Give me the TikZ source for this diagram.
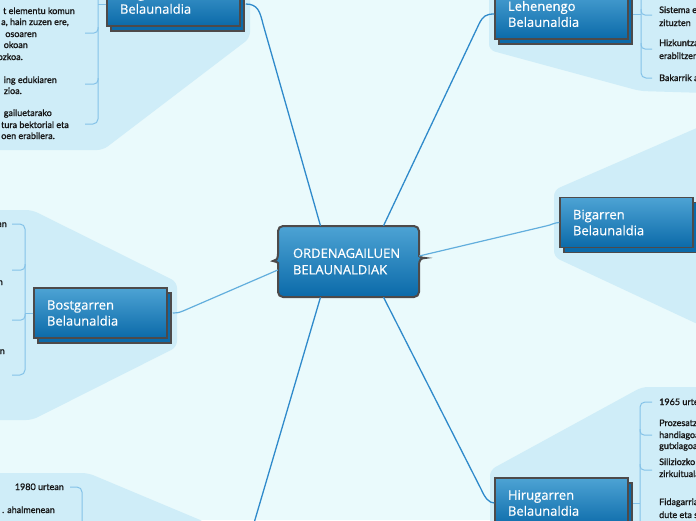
\documentclass[tikz,border=0pt]{standalone}
\usepackage{fontspec}
\newfontfamily\titlefont{Open Sans}[FakeBold=0.6]
\newfontfamily\itemfont{Lato}[FakeBold=1.2]
\usetikzlibrary{shadows,calc}
\definecolor{bgc}{HTML}{EAFAFC}
\definecolor{panelc}{HTML}{CFEDF8}
\definecolor{boxtop}{HTML}{4DA3D4}
\definecolor{boxbot}{HTML}{0B6AA9}
\definecolor{boxborder}{HTML}{4D4A4A}
\definecolor{linec}{HTML}{2F8ACB}
\definecolor{sidec}{HTML}{62AEDD}
\definecolor{itemc}{HTML}{84C2E8}
\definecolor{itemtext}{HTML}{151515}
\begin{document}
\begin{tikzpicture}[x=1pt,y=-1pt,
  genbox/.style={draw=boxborder, line width=1.5pt, top color=boxtop, bottom color=boxbot,
    minimum height=50pt, text width=107pt, inner xsep=13pt, inner ysep=0pt, align=left,
    font=\titlefont\fontsize{13}{16}\selectfont, text=white,
    copy shadow={shadow xshift=4pt, shadow yshift=-5pt, draw=boxborder, line width=1.5pt, fill=boxbot}},
  ctext/.style={minimum width=141pt, minimum height=71pt, text width=111pt, inner xsep=15pt, inner ysep=0pt,
    align=left, font=\titlefont\fontsize{13}{16.5}\selectfont, text=white},
  lt/.style={font=\itemfont\fontsize{9}{11}\selectfont, inner sep=0pt, anchor=base west, text=itemtext},
  rt/.style={lt, anchor=base east},
  panel/.style={fill=panelc, rounded corners=6pt},
  mainline/.style={draw=linec, line width=1.3pt},
  sideline/.style={draw=sidec, line width=1.2pt},
  itemline/.style={draw=itemc, line width=1pt},
]
\fill[bgc] (0,0) rectangle (696,520);
\useasboundingbox (0,0) rectangle (696,520);

% panels
\path[panel] (-10,-10) -- (250,-10) -- (250,38) -- (103,150) -- (-10,150) -- cycle;
\path[panel] (489,-10) -- (489,50) -- (640,91) -- (706,93) -- (706,-10) -- cycle;
\path[panel] (554,190) -- (706,124) -- (706,328) -- (554,257) -- cycle;
\path[panel] (490,530) -- (490,470) -- (642,387) -- (706,387) -- (706,530) -- cycle;
\path[panel] (-10,210) -- (32,210) -- (177,282) -- (177,347) -- (32,420) -- (-10,420) -- cycle;
\path[panel] (-10,473) -- (88,473) -- (205,522) -- (210,530) -- (-10,530) -- cycle;

% central box
\path[draw=boxborder, line width=2pt, top color=boxtop, bottom color=boxbot, rounded corners=5pt]
  (278,226) -- (419,226) -- (419,251) [sharp corners] .. controls (419,256) and (421,258) .. (425,258)
  .. controls (421,258) and (419,260) .. (419,265) [rounded corners=5pt] -- (419,297) -- (278,297)
  -- (278,268) [sharp corners] .. controls (278,263) and (276,261) .. (273,261)
  .. controls (276,261) and (278,259) .. (278,254) [rounded corners=5pt] -- cycle;
\node[ctext] (c) at (348.5,261.5) {ORDENAGAILUEN\\BELAUNALDIAK};

% generation boxes
\node[genbox] (sei) at (173.5,1) {Seigarren\\Belaunaldia};
\node[genbox] (leh) at (561.5,14) {Lehenengo\\Belaunaldia};
\node[genbox] (big) at (626.5,222.5) {Bigarren\\Belaunaldia};
\node[genbox] (bost) at (100.5,313) {Bostgarren\\Belaunaldia};
\node[genbox] (hir) at (561.5,503) {Hirugarren\\Belaunaldia};
\coordinate (lau) at (250.5,535);

% main connectors
\draw[mainline] ([xshift=-28pt]c.north) -- (263,24) .. controls (260,12) and (258,4) .. ([xshift=5pt,yshift=-3pt]sei.east);
\draw[mainline] ([xshift=35pt]c.north) -- (479,24) .. controls (483,16) and (486,14) .. (leh.west);
\draw[sideline] ([yshift=5.5pt]c.east) -- (546,226) .. controls (551,225) and (555,222.5) .. (big.west);
\draw[sideline] ([yshift=-8.5pt]c.west) -- (183,311) .. controls (178,313) and (176,313) .. ([xshift=5pt]bost.east);
\draw[mainline] ([xshift=35pt]c.south) -- (481,489) .. controls (485,498) and (489,503) .. (hir.west);
\draw[mainline] ([xshift=-28pt]c.south) -- (lau);

% item branches
\draw[itemline] ([yshift=-3pt]sei.west) -- (98,4);
\draw[itemline, rounded corners=5pt] (98,-10) |- (85,124);
\draw[itemline, rounded corners=4pt] (98,27) |- (85,33);
\draw[itemline, rounded corners=4pt] (98,78) |- (85,84);

\draw[itemline] ([xshift=4pt]leh.east) -- (641,14);
\draw[itemline, rounded corners=5pt] (641,-10) |- (652,78);
\draw[itemline, rounded corners=4pt] (641,9) |- (652,15);
\draw[itemline, rounded corners=4pt] (641,43) |- (652,49);

\draw[itemline] ([xshift=4pt]hir.east) -- (640,503);
\draw[itemline, rounded corners=5pt] (652,402) -| (640,530);
\draw[itemline, rounded corners=4pt] (640,429) |- (652,435);
\draw[itemline, rounded corners=4pt] (640,464) |- (652,470);

\draw[itemline] (bost.west) -- (25,313);
\draw[itemline, rounded corners=5pt] (12,224) -| (25,300) |- (12,375);
\draw[itemline, rounded corners=4pt] (25,264) |- (12,270);
\draw[itemline, rounded corners=4pt] (25,314) |- (12,320);

\draw[itemline, rounded corners=5pt] (70,487) -| (82,530);

% item texts: Seigarren
\node[rt] (s1) at (75,14) {t elementu komun};
\node[rt] (s2) at (69,25) {a, hain zuzen ere,};
\node[rt] (s3) at (37,37) {osoaren};
\node[rt] (s4) at (28,48) {okoan};
\node[rt] (s5) at (23,60) {ozkoa.};
\node[rt] (s6) at (57,83) {ing edukiaren};
\node[rt] (s7) at (22,94) {zioa.};
\node[rt] (s8) at (52,116) {gailuetarako};
\node[rt] (s9) at (69,128) {tura bektorial eta};
\node[rt] (s10) at (55,139) {oen erabilera.};

% Bostgarren
\node[rt] (b1) at (7,227) {an};
\node[rt] (b2) at (3,285) {n};
\node[rt] (b3) at (5,354) {n};

% Laugarren (bottom-left)
\node[rt] (l1) at (64,490) {1980 urtean};
\node[rt] (l2) at (55,513) {. ahalmenean};

% Lehenengo
\node[lt] (e1) at (659,13) {Sistema eragilerik ez};
\node[lt] (e2) at (659,26) {zituzten};
\node[lt] (e3) at (659,46) {Hizkuntza makina-hizkuntza};
\node[lt] (e4) at (659,59) {erabiltzen zuten};
\node[lt] (e5) at (659,81) {Bakarrik arazo bat};

% Hirugarren
\node[lt] (h1) at (659,405) {1965 urtean};
\node[lt] (h2) at (659,426) {Prozesatzeko abiadura};
\node[lt] (h3) at (659,438) {handiagoa eta};
\node[lt] (h4) at (659,449) {gutxiagoa.};
\node[lt] (h5) at (659,465) {Siliziozko txipak};
\node[lt] (h6) at (659,477) {zirkuitualak};
\node[lt] (h7) at (659,505) {Fidagarriagoak};
\node[lt] (h8) at (659,518) {dute eta sendoagoak};
\end{tikzpicture}
\end{document}
